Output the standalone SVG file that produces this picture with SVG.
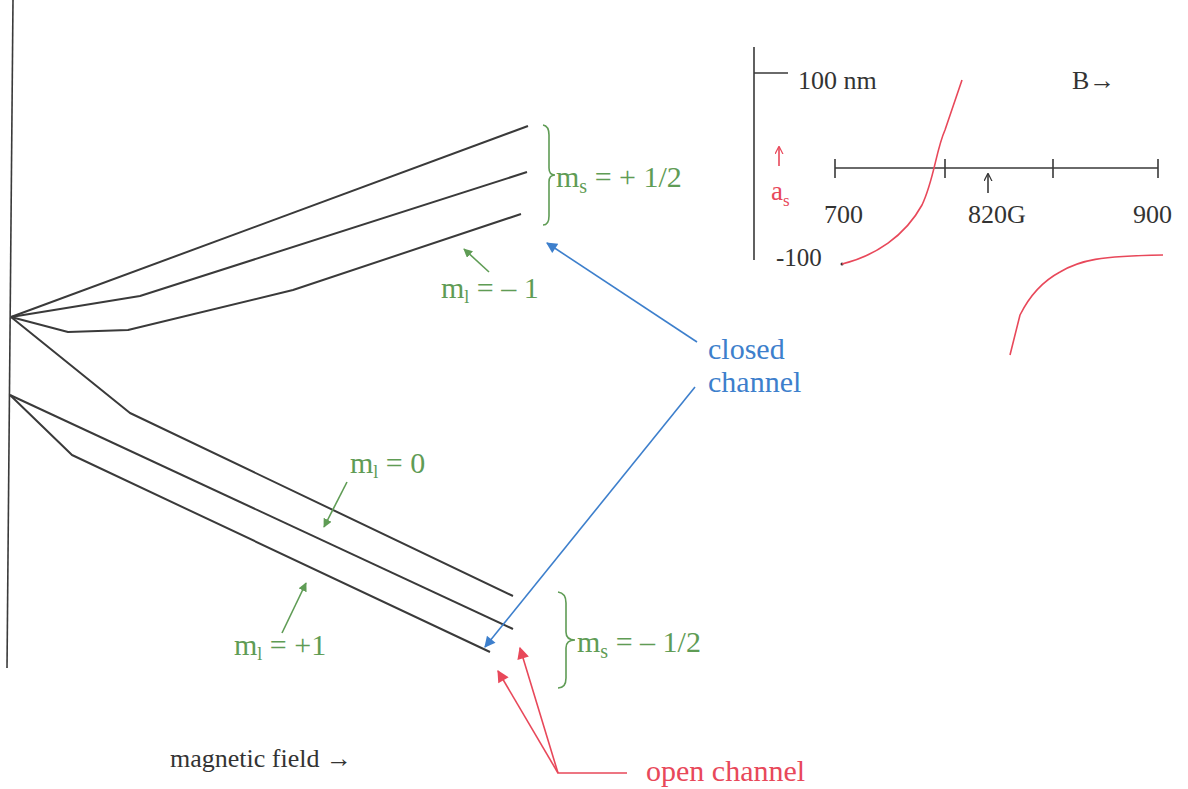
<svg xmlns="http://www.w3.org/2000/svg" width="1188" height="789" viewBox="0 0 1188 789">
<style>
.lvl{fill:none;stroke:#3a3a3a;stroke-width:2;stroke-linejoin:round}
.ax{fill:none;stroke:#3a3a3a;stroke-width:1.6}
.t{font-family:"Liberation Serif",serif}
.g{fill:#5f9c55}
.gs{fill:none;stroke:#5f9c55;stroke-width:1.6}
.b{fill:#3d7fcc}
.bs{fill:none;stroke:#3d7fcc;stroke-width:1.6}
.r{fill:#e8485a}
.rs{fill:none;stroke:#e8485a;stroke-width:1.6}
.k{fill:#333}
</style>
<defs>
<marker id="mg" viewBox="0 0 10 10" refX="9" refY="5" markerWidth="9" markerHeight="9" orient="auto" markerUnits="userSpaceOnUse"><path d="M0,0 L10,5 L0,10 z" fill="#5f9c55"/></marker>
<marker id="mb" viewBox="0 0 10 10" refX="9" refY="5" markerWidth="14" markerHeight="11" orient="auto" markerUnits="userSpaceOnUse"><path d="M0,0 L10,5 L0,10 z" fill="#3d7fcc"/></marker>
<marker id="mr" viewBox="0 0 10 10" refX="9" refY="5" markerWidth="15" markerHeight="12" orient="auto" markerUnits="userSpaceOnUse"><path d="M0,0 L10,5 L0,10 z" fill="#e8485a"/></marker>
<marker id="ak" viewBox="0 0 10 10" refX="9" refY="5" markerWidth="8" markerHeight="9" orient="auto" markerUnits="userSpaceOnUse"><path d="M0,0 L10,5 L0,10" fill="none" stroke="#333" stroke-width="1.5"/></marker>
<marker id="ar" viewBox="0 0 10 10" refX="9" refY="5" markerWidth="8" markerHeight="9" orient="auto" markerUnits="userSpaceOnUse"><path d="M0,0 L10,5 L0,10" fill="none" stroke="#e8485a" stroke-width="1.5"/></marker>
</defs>
<rect width="1188" height="789" fill="#fff"/>

<g id="energy-axis"><path class="ax" d="M13,0 L7,668"/></g>

<g id="levels-upper">
<path class="lvl" d="M11,317 L528,126"/>
<path class="lvl" d="M11,317 L140,296 L527,172"/>
<path class="lvl" d="M11,317 L68,332 L128,330 L293,290 L521,214"/>
</g>
<g id="levels-lower">
<path class="lvl" d="M11,317 L130,413 L513,596"/>
<path class="lvl" d="M10,395 L513,629"/>
<path class="lvl" d="M10,395 L72,455 L490,652"/>
</g>

<g id="brace-upper">
<path class="gs" d="M543,125 Q549,126 549,135 L549,168 Q549,175 555,175 Q549,175 549,182 L549,216 Q549,225 543,225"/>
<text class="t g" x="556" y="187" font-size="30">m<tspan font-size="20" dy="6">s</tspan><tspan dy="-6"> = + 1/2</tspan></text>
</g>
<g id="brace-lower">
<path class="gs" d="M558,592 Q566,593 566,603 L566,632 Q566,640 575,640 Q566,640 566,648 L566,678 Q566,688 558,688"/>
<text class="t g" x="577" y="652" font-size="30">m<tspan font-size="20" dy="6">s</tspan><tspan dy="-6"> = – 1/2</tspan></text>
</g>

<g id="label-ml-minus1"><text class="t g" x="441" y="298" font-size="30">m<tspan font-size="18" dy="5">l</tspan><tspan dy="-5"> = – 1</tspan></text></g>
<g id="label-ml-0"><text class="t g" x="350" y="473" font-size="30">m<tspan font-size="18" dy="5">l</tspan><tspan dy="-5"> = 0</tspan></text></g>
<g id="label-ml-plus1"><text class="t g" x="234" y="655" font-size="30">m<tspan font-size="18" dy="5">l</tspan><tspan dy="-5"> = +1</tspan></text></g>

<g id="label-closed"><text class="t b" x="708" y="359" font-size="30">closed</text><text class="t b" x="708" y="392" font-size="30">channel</text></g>
<g id="label-open"><text class="t r" x="646" y="781" font-size="30">open channel</text></g>
<g id="label-field"><text class="t k" x="170" y="767" font-size="26">magnetic field →</text></g>

<g id="connectors">
<path class="gs" d="M489,272 L464,249" marker-end="url(#mg)"/>
<path class="gs" d="M347,482 L324,527" marker-end="url(#mg)"/>
<path class="gs" d="M282,633 L306,583" marker-end="url(#mg)"/>
<path class="bs" d="M697,342 L547,243" marker-end="url(#mb)"/>
<path class="bs" d="M695,387 L485,647" marker-end="url(#mb)"/>
<path class="rs" d="M627,773 L558,773 L520,648" marker-end="url(#mr)"/>
<path class="rs" d="M558,773 L498,671" marker-end="url(#mr)"/>
</g>

<g id="inset">
<path class="ax" d="M754,47 L754,260 M754,73 L788,73"/>
<text class="t k" x="798" y="89" font-size="26">100 nm</text>
<text class="t k" x="1072" y="89" font-size="26">B→</text>
<path class="rs" d="M779,166 L779,147" marker-end="url(#ar)" stroke-width="1.4"/>
<text class="t r" x="771" y="200" font-size="27">a<tspan font-size="17" dy="6">s</tspan></text>
<path class="ax" d="M835,168 L1158,168 M835,159 L835,178 M945,159 L945,178 M1053,159 L1053,178 M1158,159 L1158,178"/>
<path class="ax" d="M988,193 L988,174" marker-end="url(#ak)" stroke-width="1.4"/>
<text class="t k" x="824" y="223" font-size="26">700</text>
<text class="t k" x="968" y="223" font-size="26">820G</text>
<text class="t k" x="1133" y="223" font-size="26">900</text>
<text class="t k" x="776" y="266" font-size="25">-100</text>
<circle cx="842" cy="264" r="1.5" fill="#333"/>
<path class="rs" d="M842,264 C875,256 905,236 922,205 C934,180 936,150 945,130 L962,80"/>
<path class="rs" d="M1010,355 L1020,315 C1030,295 1045,280 1060,272 C1080,260 1100,256 1163,255"/>
</g>
</svg>
